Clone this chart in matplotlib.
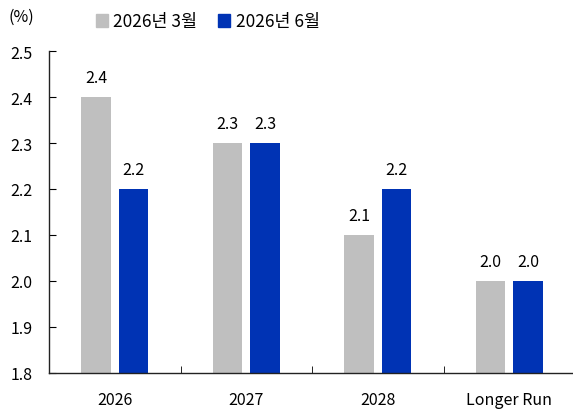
import matplotlib
matplotlib.use("Agg")
import matplotlib.pyplot as plt
import numpy as np
from matplotlib.patches import Patch

plt.rcParams['font.family'] = ['Noto Sans CJK KR', 'DejaVu Sans']

categories = ["2026", "2027", "2028", "Longer Run"]
march = [2.4, 2.3, 2.1, 2.0]
june = [2.2, 2.3, 2.2, 2.0]
series_names = ["2026년 3월", "2026년 6월"]
yticks = [1.8, 1.9, 2.0, 2.1, 2.2, 2.3, 2.4, 2.5]

gray = "#bfbfbf"
blue = "#0033b4"
fs = 11.5

fig = plt.figure(figsize=(5.73, 4.10), dpi=100)
ax = fig.add_axes([49/573, 1 - 374/410, 526/573, (374 - 52)/410])

x = np.arange(len(categories))
w = 0.226
off = 0.143
ax.bar(x - off, [v - 1.8 for v in march], w, bottom=1.8, color=gray)
ax.bar(x + off, [v - 1.8 for v in june], w, bottom=1.8, color=blue)

for xi, v in zip(x - off, march):
    ax.annotate(f"{v:.1f}", (xi, v), xytext=(0, 8), textcoords="offset points",
                ha="center", va="bottom", fontsize=fs)
for xi, v in zip(x + off, june):
    ax.annotate(f"{v:.1f}", (xi, v), xytext=(0, 8), textcoords="offset points",
                ha="center", va="bottom", fontsize=fs)

ax.set_xlim(-0.5, len(categories) - 0.5)
ax.set_ylim(1.8, 2.5)
ax.set_yticks(yticks)
ax.set_yticklabels([f"{t:.1f}" for t in yticks], fontsize=fs)
ax.set_xticks(x)
ax.set_xticklabels(categories, fontsize=fs)
ax.tick_params(axis='x', length=0, pad=13)
ax.tick_params(axis='y', direction='in', length=5, pad=12)
ax.set_xticks(np.arange(0.5, len(categories) - 0.5, 1), minor=True)
ax.tick_params(axis='x', which='minor', direction='in', length=5)
for s in ["top", "right"]:
    ax.spines[s].set_visible(False)
for s in ["left", "bottom"]:
    ax.spines[s].set_linewidth(1.0)
    ax.spines[s].set_color("#222222")

fig.text(8/573, 1 - 17.5/410, "(%)", fontsize=fs, va="center", ha="left")

handles = [Patch(color=gray), Patch(color=blue)]
fig.legend(handles, series_names, loc="center left", bbox_to_anchor=(96/573, 1 - 22.5/410),
           ncol=2, frameon=False, fontsize=12.5, handlelength=0.7, handleheight=0.7,
           handletextpad=0.3, columnspacing=1.2, borderpad=0, borderaxespad=0)

fig.savefig("out.png", dpi=100)
